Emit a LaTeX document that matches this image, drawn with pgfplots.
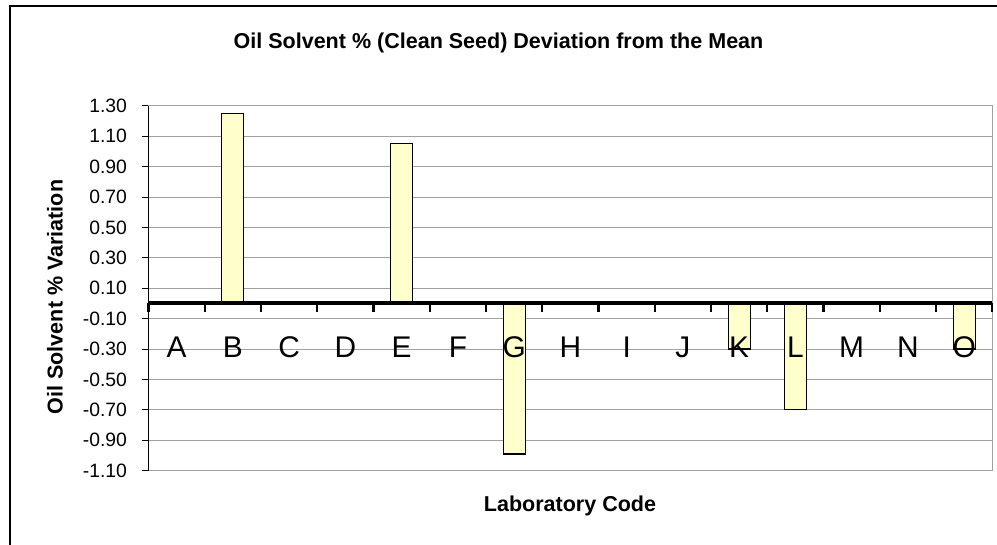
\documentclass[border=0pt]{standalone}
\usepackage{fontspec}
\setmainfont{Liberation Sans}
\usepackage{pgfplots}
\pgfplotsset{compat=1.18}
\definecolor{barfill}{HTML}{FFFFCC}
\definecolor{gridgray}{HTML}{A0A0A0}
\begin{document}
\begin{tikzpicture}
\useasboundingbox (0,0) rectangle (997bp,-545bp);
\draw[line width=2bp] (10bp,-545bp) -- (10bp,-6bp) -- (997bp,-6bp);
\begin{axis}[
  at={(148.5bp,-470.7bp)}, anchor=south west,
  width=843.8bp, height=365bp, scale only axis,
  xmin=0, xmax=15, ymin=-1.1, ymax=1.3,
  xtick=\empty,
  ytick pos=left,
  ytick={-1.1,-0.9,-0.7,-0.5,-0.3,-0.1,0.1,0.3,0.5,0.7,0.9,1.1,1.3},
  yticklabels={-1.10,-0.90,-0.70,-0.50,-0.30,-0.10,0.10,0.30,0.50,0.70,0.90,1.10,1.30},
  ymajorgrids, grid style={gridgray, line width=0.8bp},
  axis line style={gridgray, line width=1.4bp},
  tick align=outside, major tick length=6bp,
  ytick style={black, line width=0.8bp},
  yticklabel style={font=\fontsize{19.4}{22}\selectfont, xshift=-12bp},
  ybar, bar width=22bp,
  clip=false,
]
\addplot[fill=barfill, draw=black, line width=1.2bp] coordinates {
  (1.5,1.25) (4.5,1.05) (6.5,-0.99) (10.5,-0.30) (11.5,-0.70) (14.5,-0.30)};
\draw[black, line width=1.2bp] (rel axis cs:0,0) -- (rel axis cs:0,1);
\draw[line width=4bp] (axis cs:0,0) -- (axis cs:15,0);
\pgfplotsinvokeforeach{0,...,15}{\draw[line width=2.2bp] (axis cs:#1,0) -- (axis cs:#1,-0.055);}
\node[font=\fontsize{30}{34}\selectfont] at (axis cs:0.5,-0.29) {A};
\node[font=\fontsize{30}{34}\selectfont] at (axis cs:1.5,-0.29) {B};
\node[font=\fontsize{30}{34}\selectfont] at (axis cs:2.5,-0.29) {C};
\node[font=\fontsize{30}{34}\selectfont] at (axis cs:3.5,-0.29) {D};
\node[font=\fontsize{30}{34}\selectfont] at (axis cs:4.5,-0.29) {E};
\node[font=\fontsize{30}{34}\selectfont] at (axis cs:5.5,-0.29) {F};
\node[font=\fontsize{30}{34}\selectfont] at (axis cs:6.5,-0.29) {G};
\node[font=\fontsize{30}{34}\selectfont] at (axis cs:7.5,-0.29) {H};
\node[font=\fontsize{30}{34}\selectfont] at (axis cs:8.5,-0.29) {I};
\node[font=\fontsize{30}{34}\selectfont] at (axis cs:9.5,-0.29) {J};
\node[font=\fontsize{30}{34}\selectfont] at (axis cs:10.5,-0.29) {K};
\node[font=\fontsize{30}{34}\selectfont] at (axis cs:11.5,-0.29) {L};
\node[font=\fontsize{30}{34}\selectfont] at (axis cs:12.5,-0.29) {M};
\node[font=\fontsize{30}{34}\selectfont] at (axis cs:13.5,-0.29) {N};
\node[font=\fontsize{30}{34}\selectfont] at (axis cs:14.5,-0.29) {O};
\end{axis}
\node[font=\fontsize{21.6}{25}\selectfont\bfseries] at (498.5bp,-43bp) {Oil Solvent \% (Clean Seed) Deviation from the Mean};
\node[font=\fontsize{21.6}{25}\selectfont\bfseries, rotate=90] at (55bp,-297bp) {Oil Solvent \% Variation};
\node[font=\fontsize{21.6}{25}\selectfont\bfseries] at (570bp,-506bp) {Laboratory Code};
\end{tikzpicture}
\end{document}
